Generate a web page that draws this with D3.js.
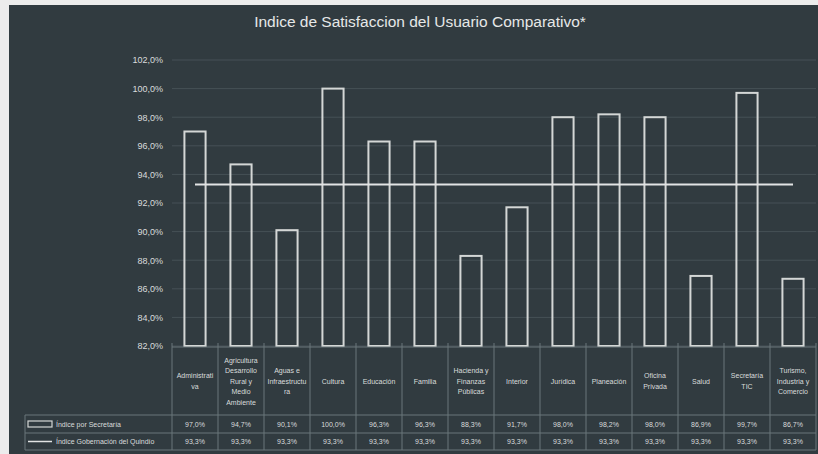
<!DOCTYPE html>
<html><head><meta charset="utf-8">
<script src="https://cdn.jsdelivr.net/npm/d3@7"></script>
<style>
html,body{margin:0;padding:0;background:#ececec;}
svg{display:block;}
text{font-family:"Liberation Sans Narrow","Liberation Sans",Arial,sans-serif;}
</style></head>
<body>
<svg id="c" width="818" height="454"></svg>
<script>
const categories = ["Administrativa","Agricultura Desarrollo Rural y Medio Ambiente","Aguas e Infraestructura","Cultura","Educación","Familia","Hacienda y Finanzas Públicas","Interior","Jurídica","Planeación","Oficina Privada","Salud","Secretaría TIC","Turismo, Industria y Comercio"];
const categoryLines = [["Administrati","va"],["Agricultura","Desarrollo","Rural y","Medio","Ambiente"],["Aguas e","Infraestructu","ra"],["Cultura"],["Educación"],["Familia"],["Hacienda y","Finanzas","Públicas"],["Interior"],["Jurídica"],["Planeación"],["Oficina","Privada"],["Salud"],["Secretaría","TIC"],["Turismo,","Industria y","Comercio"]];
const indicePorSecretaria = [97.0,94.7,90.1,100.0,96.3,96.3,88.3,91.7,98.0,98.2,98.0,86.9,99.7,86.7];
const indiceGobernacion = [93.3,93.3,93.3,93.3,93.3,93.3,93.3,93.3,93.3,93.3,93.3,93.3,93.3,93.3];
const yTicks = [82,84,86,88,90,92,94,96,98,100,102];
const seriesNames = ["Índice por Secretaría","Índice Gobernación del Quindío"];
const title = "Indice de Satisfaccion del Usuario Comparativo*";

const svg = d3.select("#c");
const bg = "#313b40", fg = "#d9dcdc", grid = "#465156", border = "#6b767a";
svg.append("rect").attr("x",9).attr("y",5).attr("width",809).attr("height",449).attr("fill",bg);

const loc = d3.formatLocale({decimal:",",thousands:".",grouping:[3],currency:["$",""]});
const fmt = v => loc.format(".1f")(v) + "%";

const x = d3.scaleBand().domain(categories).range([172,816]).paddingInner(0.54).paddingOuter(0.27);
const y = d3.scaleLinear().domain([82,102]).range([346,60]);
const step = x.step();

svg.append("text").attr("x",420).attr("y",27).attr("text-anchor","middle")
  .attr("fill","#e6e8e8").attr("font-size",15.5).text(title);

// grid
svg.append("g").selectAll("line").data(yTicks).join("line")
  .attr("x1",172).attr("x2",816).attr("y1",d=>y(d)).attr("y2",d=>y(d))
  .attr("stroke",grid).attr("stroke-width",1);

// y axis
const ya = svg.append("g").attr("transform","translate(172,0)")
  .call(d3.axisLeft(y).tickValues(yTicks).tickFormat(fmt).tickSize(0).tickPadding(9));
ya.select(".domain").remove();
ya.selectAll("text").attr("fill",fg).attr("font-size",9)
  .style("font-family","'Liberation Sans Narrow','Liberation Sans',Arial,sans-serif");

// bars
svg.append("g").selectAll("rect").data(categories).join("rect")
  .attr("x",d=>x(d)).attr("width",x.bandwidth())
  .attr("y",(d,i)=>y(indicePorSecretaria[i]))
  .attr("height",(d,i)=>y(82)-y(indicePorSecretaria[i]))
  .attr("fill","none").attr("stroke","#d4d7d6").attr("stroke-width",2);

// line
const line = d3.line().x((d,i)=>x(categories[i])+x.bandwidth()/2).y(d=>y(d));
svg.append("path").datum(indiceGobernacion).attr("d",line)
  .attr("fill","none").attr("stroke","#e2e4e4").attr("stroke-width",2);

// table
const t0 = 347, t1 = 415, t2 = 433, t3 = 450, left = 25;
const tg = svg.append("g");
const colEdges = categories.map(c => x(c) - step*0.27);
colEdges.push(816);
// horizontal lines
[[172,t0],[left,t1],[left,t2],[left,t3]].forEach(([x0,yy])=>{
  tg.append("line").attr("x1",x0).attr("x2",816).attr("y1",yy).attr("y2",yy).attr("stroke",border);
});
// vertical lines
colEdges.forEach(e=>tg.append("line").attr("x1",e).attr("x2",e).attr("y1",t0).attr("y2",t3).attr("stroke",border));
tg.append("line").attr("x1",left).attr("x2",left).attr("y1",t1).attr("y2",t3).attr("stroke",border);
// tick marks at top of table
colEdges.forEach(e=>tg.append("line").attr("x1",e).attr("x2",e).attr("y1",t0-4).attr("y2",t0).attr("stroke",border));

// category labels
categories.forEach((c,i)=>{
  const cx = x(c)+x.bandwidth()/2;
  const lines = categoryLines[i];
  const lh = 10.5;
  const startY = (t0+t1)/2 - (lines.length-1)*lh/2 + 2.5;
  const tx = tg.append("text").attr("text-anchor","middle").attr("fill",fg).attr("font-size",7);
  lines.forEach((l,j)=>tx.append("tspan").attr("x",cx).attr("y",startY+j*lh).text(l));
  tg.append("text").attr("x",cx).attr("y",(t1+t2)/2+2.5).attr("text-anchor","middle")
    .attr("fill",fg).attr("font-size",7).text(fmt(indicePorSecretaria[i]));
  tg.append("text").attr("x",cx).attr("y",(t2+t3)/2+2.5).attr("text-anchor","middle")
    .attr("fill",fg).attr("font-size",7).text(fmt(indiceGobernacion[i]));
});
// legend keys
tg.append("rect").attr("x",28).attr("y",(t1+t2)/2-3).attr("width",24).attr("height",6)
  .attr("fill","none").attr("stroke","#d4d7d6").attr("stroke-width",1.2);
tg.append("text").attr("x",56).attr("y",(t1+t2)/2+2.5).attr("fill",fg).attr("font-size",7).text(seriesNames[0]);
tg.append("line").attr("x1",28).attr("x2",52).attr("y1",(t2+t3)/2).attr("y2",(t2+t3)/2)
  .attr("stroke","#e2e4e4").attr("stroke-width",1.5);
tg.append("text").attr("x",56).attr("y",(t2+t3)/2+2.5).attr("fill",fg).attr("font-size",7).text(seriesNames[1]);
</script>
</body></html>
